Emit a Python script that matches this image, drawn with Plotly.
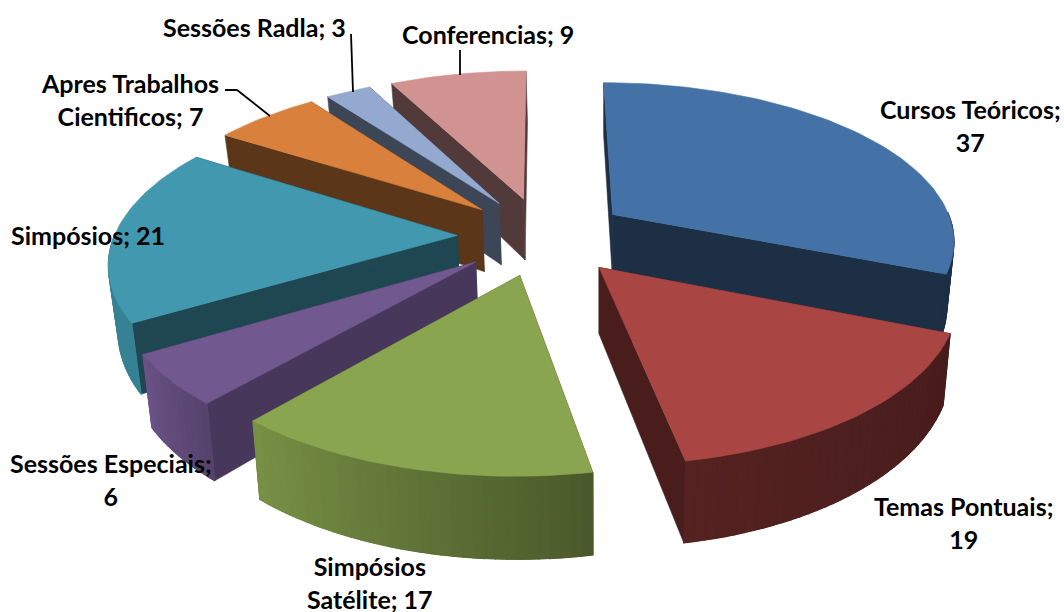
import math
import plotly.graph_objects as go

categories = ["Cursos Teóricos", "Temas Pontuais", "Simpósios Satélite", "Sessões Especiais",
              "Simpósios", "Apres Trabalhos Cientificos", "Sessões Radla", "Conferencias"]
values = [37, 19, 17, 6, 21, 7, 3, 9]
top_colors = ["#4472A6", "#A94543", "#89A54F", "#71588F", "#4198AF", "#D9813C", "#93A9CF", "#D19392"]
side_shade = [0.42, 0.43, 0.43, 0.63, 0.47, 0.42, 0.42, 0.40]
arc_shade_start = [0.42, 0.42, 0.54, 0.76, 0.85, 0.42, 0.42, 0.40]
arc_shade_end = [0.42, 0.50, 0.88, 0.94, 0.85, 0.42, 0.42, 0.40]
label_lines = [["Cursos Teóricos;", "37"], ["Temas Pontuais;", "19"], ["Simpósios", "Satélite; 17"],
               ["Sessões Especiais;", "6"], ["Simpósios; 21"], ["Apres Trabalhos", "Cientificos; 7"],
               ["Sessões Radla; 3"], ["Conferencias; 9"]]
label_pos = [(970, 125), (963, 522), (370, 582), (111, 479), (88, 235), (130, 99), (254, 27), (488, 34)]
draw_order = [7, 6, 5, 4, 3, 0, 2, 1]

CX, Y0, RX, A, P, EXPLODE = 543, 236, 343, 1050, 0.15, 0.25


def project(u, v):
    s = 1 / (1 + P * v)
    return CX + u * RX * s, Y0 + A * (s - 1)


def drop(x, y):
    return x + (600 - x) * 0.02, y + 45 + 0.08 * y


def rgb(hex_c, f):
    r, g, b = (int(hex_c[i:i + 2], 16) for i in (1, 3, 5))
    return f"rgb({int(r * f)},{int(g * f)},{int(b * f)})"


total = sum(values)
fig = go.Figure()


def poly(pts, color, lw=0.6):
    xs = [p[0] for p in pts] + [pts[0][0]]
    ys = [p[1] for p in pts] + [pts[0][1]]
    fig.add_trace(go.Scatter(x=xs, y=ys, mode="lines", fill="toself", fillcolor=color,
                             line=dict(color=color, width=lw), hoverinfo="skip", showlegend=False))


starts = []
acc = 0
for val in values:
    starts.append(acc)
    acc += val

for i in draw_order:
    a0 = starts[i] / total * 2 * math.pi
    a1 = (starts[i] + values[i]) / total * 2 * math.pi
    mid = (a0 + a1) / 2
    ou, ov = EXPLODE * math.sin(mid), EXPLODE * math.cos(mid)
    n = max(4, int(values[i] * 2))
    angs = [a0 + (a1 - a0) * k / n for k in range(n + 1)]
    apex = project(ou, ov)
    rim = [project(ou + math.sin(t), ov + math.cos(t)) for t in angs]
    side = rgb(top_colors[i], side_shade[i])
    front_segments = [k for k in range(n) if math.cos((angs[k] + angs[k + 1]) / 2) <= 0]
    for edge in (rim[0], rim[-1]):
        poly([apex, edge, drop(*edge), drop(*apex)], side)
    if front_segments:
        band = rim[front_segments[0]:front_segments[-1] + 2]
        mean_f = (arc_shade_start[i] + arc_shade_end[i]) / 2
        poly(band + [drop(*p) for p in reversed(band)], rgb(top_colors[i], mean_f))
    for k in front_segments:
        f = arc_shade_start[i] + (arc_shade_end[i] - arc_shade_start[i]) * (k + .5) / n
        poly([rim[k], rim[k + 1], drop(*rim[k + 1]), drop(*rim[k])], rgb(top_colors[i], f), lw=1.2)
    poly([apex] + rim, top_colors[i])

# leader lines
for xs, ys in [([351, 353], [34, 92]), ([460, 460], [50, 75]), ([225, 237, 270], [90, 90, 116])]:
    fig.add_trace(go.Scatter(x=xs, y=ys, mode="lines", line=dict(color="black", width=1.8),
                             hoverinfo="skip", showlegend=False))

for lines, (x, y) in zip(label_lines, label_pos):
    text = "<br>".join("<b>" + line + "</b>" for line in lines)
    fig.add_annotation(x=x, y=y, text=text, showarrow=False, xanchor="center", yanchor="middle",
                       font=dict(family="Lato", size=25, color="black"), align="center")

fig.update_layout(width=1064, height=612, margin=dict(l=0, r=0, t=0, b=0), plot_bgcolor="white",
                  paper_bgcolor="white", showlegend=False,
                  xaxis=dict(range=[0, 1064], visible=False, fixedrange=True),
                  yaxis=dict(range=[612, 0], visible=False, fixedrange=True))
fig.write_html("out.html", config={"displayModeBar": False},
               post_script="document.body.style.margin='0';document.documentElement.style.overflow='hidden';")
